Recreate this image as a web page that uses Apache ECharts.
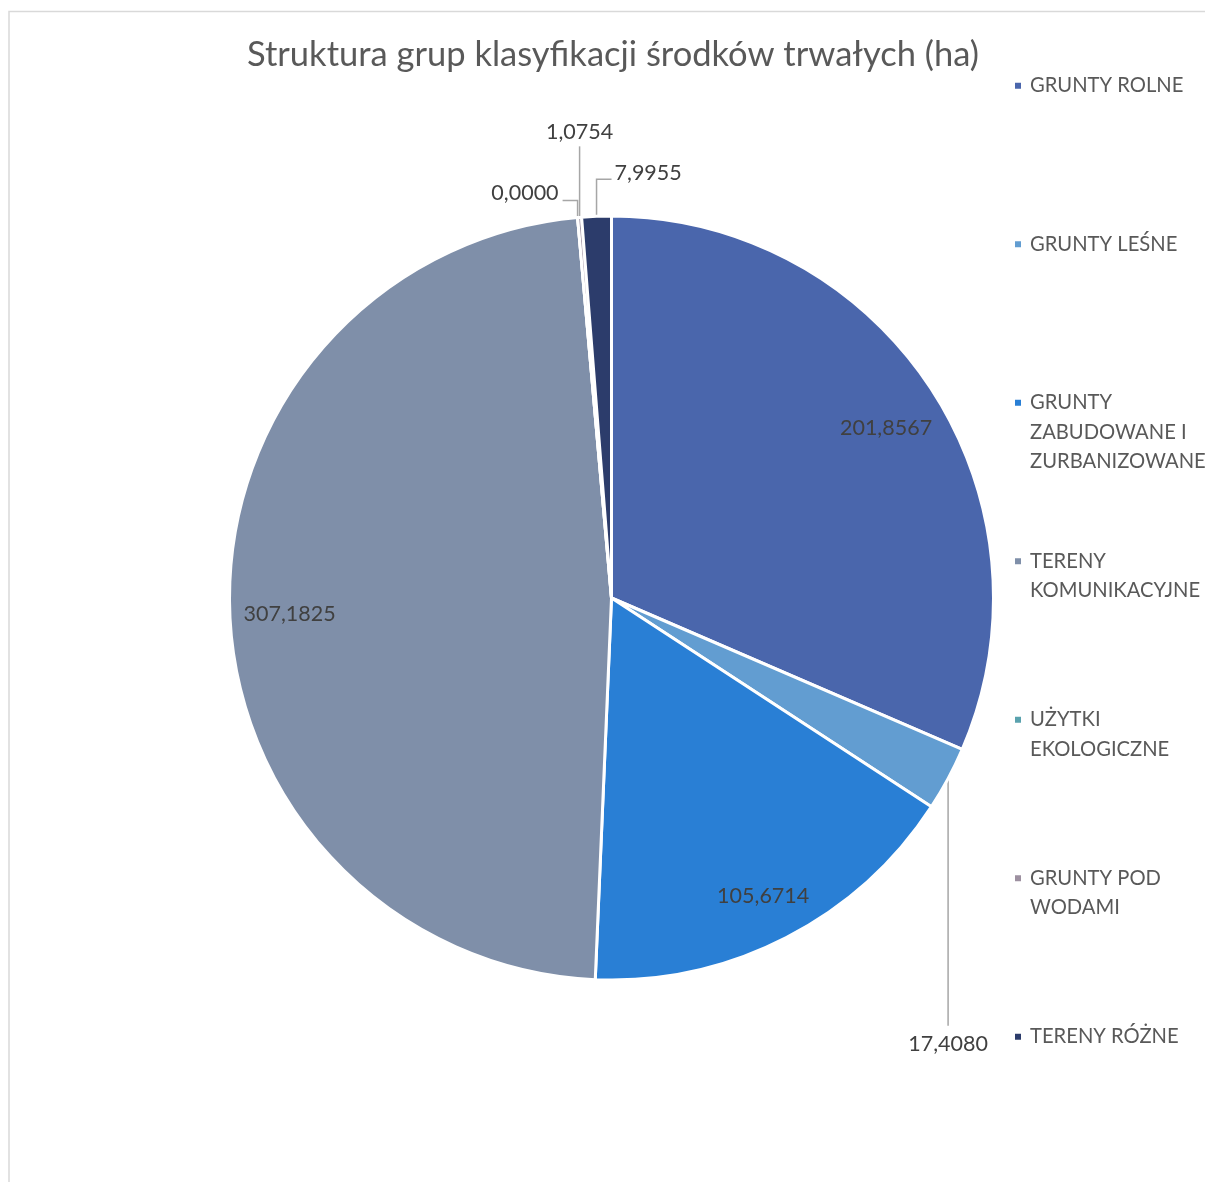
<!DOCTYPE html>
<html>
<head>
<meta charset="utf-8">
<script src="https://cdn.jsdelivr.net/npm/echarts@6/dist/echarts.min.js"></script>
<style>
html,body{margin:0;padding:0;background:#fff;}
#chart{width:1205px;height:1182px;}
</style>
</head>
<body>
<div id="chart"></div>
<script>
const titleText = 'Struktura grup klasyfikacji środków trwałych (ha)';
const categories = ['GRUNTY ROLNE', 'GRUNTY LEŚNE', 'GRUNTY ZABUDOWANE I ZURBANIZOWANE', 'TERENY KOMUNIKACYJNE', 'UŻYTKI EKOLOGICZNE', 'GRUNTY POD WODAMI', 'TERENY RÓŻNE'];
const values = [201.8567, 17.4080, 105.6714, 307.1825, 0.0000, 1.0754, 7.9955];
const colors = ['#4a66ac', '#629dd1', '#297fd5', '#7f8fa9', '#5aa2ae', '#9d90a0', '#2c3c6b'];

// styling: which labels sit outside and how their leader lines are routed
const outsideRoutes = {
  'GRUNTY LEŚNE':       { path: [[0, 247]], lx: 0, ly: 7, align: 'center', va: 'top' },
  'UŻYTKI EKOLOGICZNE': { path: [[0, -17], [-15, 0]], lx: -4, ly: -7, align: 'right', va: 'middle' },
  'GRUNTY POD WODAMI':  { path: [[0, -71]], lx: 0, ly: -3, align: 'center', va: 'bottom' },
  'TERENY RÓŻNE':       { path: [[0, -37], [15, 0]], lx: 3, ly: -6, align: 'left', va: 'middle' }
};

const FONT = 'Lato, "Open Sans", sans-serif';
const fmt = v => v.toFixed(4).replace('.', ',');

function wrap(name, maxChars) {
  const words = name.split(' ');
  const lines = [];
  let cur = '';
  words.forEach(w => {
    if (!cur) cur = w;
    else if ((cur + ' ' + w).length <= maxChars) cur += ' ' + w;
    else { lines.push(cur); cur = w; }
  });
  if (cur) lines.push(cur);
  return lines;
}
function legendText(name) {
  const lines = wrap(name, 12);
  const out = ['', ''].concat(lines);
  while (out.length < 5) out.push('');
  return out.join('\n');
}

const mainData = categories.map((n, i) => ({
  name: n,
  value: values[i],
  itemStyle: { color: colors[i] },
  label: { show: !!outsideRoutes[n] },
  labelLine: { show: !!outsideRoutes[n] }
}));
const labelData = categories.map((n, i) => ({
  name: n,
  value: values[i],
  label: { show: !outsideRoutes[n] }
}));

const chart = echarts.init(document.getElementById('chart'), null, { renderer: 'canvas' });
chart.setOption({
  backgroundColor: '#ffffff',
  animation: false,
  color: colors,
  graphic: [{
    type: 'rect',
    shape: { x: 9, y: 11.5, width: 3000, height: 3000 },
    style: { fill: 'none', stroke: '#d9d9d9', lineWidth: 1.5 },
    silent: true,
    z: -10
  }],
  title: {
    text: titleText,
    left: 247,
    top: 37,
    padding: 0,
    textStyle: { fontFamily: FONT, fontSize: 34.5, fontWeight: 'normal', color: '#595959' }
  },
  legend: {
    orient: 'vertical',
    left: 1013,
    top: 12,
    padding: 0,
    itemGap: 11,
    itemWidth: 8,
    itemHeight: 8,
    icon: 'rect',
    data: categories,
    formatter: legendText,
    textStyle: { fontFamily: FONT, fontSize: 20.2, lineHeight: 29.5, color: '#595959', padding: [0, 0, 0, 3] }
  },
  series: [{
    type: 'pie',
    center: [611.5, 598],
    radius: [0, 382],
    startAngle: 90,
    clockwise: true,
    avoidLabelOverlap: false,
    itemStyle: { borderColor: '#ffffff', borderWidth: 3 },
    label: {
      position: 'outside',
      formatter: p => fmt(p.value),
      fontFamily: FONT, fontSize: 21.5, color: '#404040'
    },
    labelLine: { length: 10, length2: 10, lineStyle: { color: '#a6a6a6', width: 1.5 } },
    labelLayout: function (p) {
      const name = categories[p.dataIndex];
      const route = outsideRoutes[name];
      if (!route || !p.labelLinePoints) return {};
      let x = p.labelLinePoints[0][0], y = p.labelLinePoints[0][1];
      const pts = [[x, y]];
      route.path.forEach(d => { x += d[0]; y += d[1]; pts.push([x, y]); });
      while (pts.length < 3) pts.push([x, y]);
      return {
        x: x + route.lx, y: y + route.ly,
        align: route.align, verticalAlign: route.va,
        labelLinePoints: pts, hideOverlap: false, moveOverlap: null
      };
    },
    emphasis: { disabled: true },
    data: mainData
  }, {
    type: 'pie',
    center: [611.5, 598],
    radius: [262, 382],
    startAngle: 90,
    clockwise: true,
    silent: true,
    avoidLabelOverlap: false,
    itemStyle: { color: 'rgba(0,0,0,0)', borderWidth: 0 },
    label: {
      position: 'inside',
      offset: [3, 9],
      formatter: p => fmt(p.value),
      fontFamily: FONT, fontSize: 21.5, color: '#404040'
    },
    labelLine: { show: false },
    emphasis: { disabled: true },
    data: labelData
  }]
});
</script>
</body>
</html>
